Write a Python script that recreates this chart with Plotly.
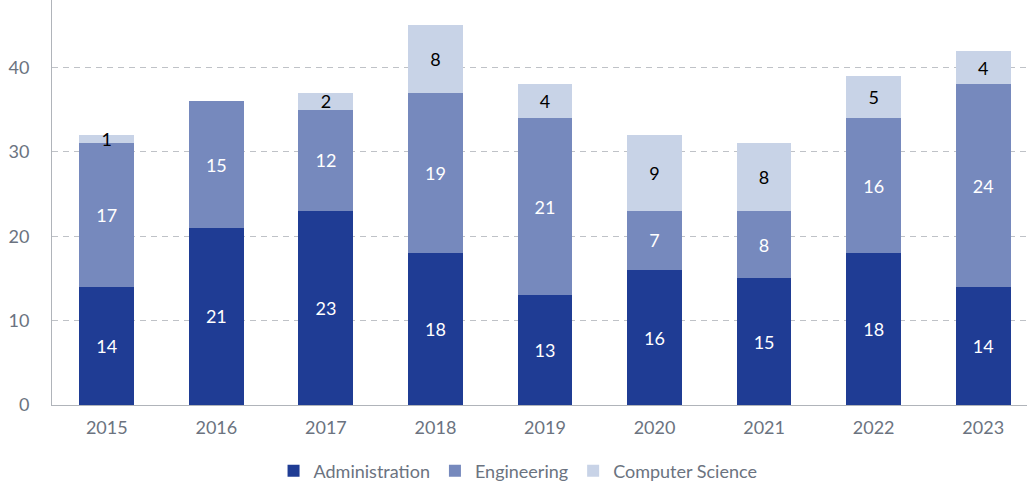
import plotly.graph_objects as go

years = ["2015", "2016", "2017", "2018", "2019", "2020", "2021", "2022", "2023"]
administration = [14, 21, 23, 18, 13, 16, 15, 18, 14]
engineering = [17, 15, 12, 19, 21, 7, 8, 16, 24]
computer_science = [1, 0, 2, 8, 4, 9, 8, 5, 4]

series = [
    ("Administration", administration, "#1f3c94", "white"),
    ("Engineering", engineering, "#7689bd", "white"),
    ("Computer Science", computer_science, "#c8d3e7", "black"),
]

fig = go.Figure()
for name, vals, color, tcolor in series:
    fig.add_trace(go.Bar(
        name=name, x=years, y=vals,
        marker=dict(color=color, line=dict(width=0)),
        text=[str(v) if v else "" for v in vals],
        textposition="inside", insidetextanchor="middle", textangle=0,
        constraintext="none", cliponaxis=False,
        textfont=dict(color=tcolor, size=18, family="Lato"),
        hoverinfo="skip",
    ))

fig.update_layout(
    barmode="stack", bargap=0.5,
    width=1027, height=485,
    margin=dict(l=52, r=0, t=0, b=80, autoexpand=False),
    plot_bgcolor="white", paper_bgcolor="white",
    font=dict(family="Lato", color="#6b7380", size=18),
    uniformtext=dict(mode=False),
    legend=dict(orientation="h", x=0.478, xanchor="center",
                yref="container", y=0.029, yanchor="middle",
                font=dict(size=18, color="#6b7380"), traceorder="normal"),
    xaxis=dict(range=[-0.5, 8.4], showline=True, linecolor="#b0b4ba", linewidth=1,
               ticks="", tickfont=dict(size=18, color="#6b7380"), showgrid=False,
               ticklabelstandoff=6),
    yaxis=dict(range=[0, 48.0], dtick=10, showline=True, linecolor="#b0b4ba", linewidth=1,
               showgrid=True, gridcolor="#bfc2c7", griddash="6px,5px", gridwidth=1,
               zeroline=False, ticks="", tickfont=dict(size=18, color="#6b7380"),
               ticklabelstandoff=18),
)

fig.write_html("out.html", config={"displayModeBar": False},
               post_script="document.body.style.margin='0';")
